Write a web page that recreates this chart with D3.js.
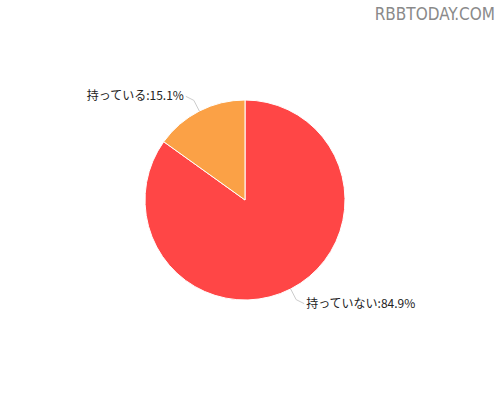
<!DOCTYPE html>
<html>
<head>
<meta charset="utf-8">
<script src="https://cdn.jsdelivr.net/npm/d3@7"></script>
<style>
  body { margin: 0; background: #fff; }
  svg { display: block; }
</style>
</head>
<body>
<svg id="chart" width="500" height="400"></svg>
<script>
// chart data
const labels = ['持っていない', '持っている']
const values = [84.9, 15.1]
const colors = ['#ff4646', '#fba146']

const width = 500, height = 400
const cx = 245, cy = 200, radius = 100

const svg = d3.select('#chart')

// watermark
svg.append('text')
    .attr('x', 495)
    .attr('y', 20)
    .attr('text-anchor', 'end')
    .style('font-family', 'Liberation Sans Narrow, DejaVu Sans Condensed, sans-serif')
    .style('font-size', '17px')
    .style('fill', '#8a8a8a')
    .text('RBBTODAY.COM')

const pie = d3.pie().sort(null).value(d => d)
const arcs = pie(values)

const arc = d3.arc().innerRadius(0).outerRadius(radius)

const g = svg.append('g').attr('transform', `translate(${cx},${cy})`)

g.selectAll('path')
    .data(arcs)
    .enter()
    .append('path')
    .attr('d', arc)
    .style('fill', (d, i) => colors[i])
    .style('stroke', '#fff')
    .style('stroke-width', 1)

// leader lines and labels
const outer = d3.arc().innerRadius(radius * 1.12).outerRadius(radius * 1.12)

arcs.forEach((d, i) => {
    const mid = (d.startAngle + d.endAngle) / 2
    const p0 = d3.arc().innerRadius(radius).outerRadius(radius).centroid(d)
    const p1 = outer.centroid(d)
    const right = Math.sin(mid) > 0
    const p2 = [p1[0] + (right ? 8 : -8), p1[1] + (Math.cos(mid) > 0 ? -4 : 4)]

    g.append('polyline')
        .attr('points', [p0, p1, p2].map(p => p.join(',')).join(' '))
        .style('fill', 'none')
        .style('stroke', '#ccc')
        .style('stroke-width', 1)

    g.append('text')
        .attr('x', p2[0] + (right ? 2 : -2))
        .attr('y', p2[1] + 4)
        .attr('text-anchor', right ? 'start' : 'end')
        .style('font-family', 'Noto Sans CJK JP, sans-serif')
        .style('font-size', '12px')
        .style('fill', '#222')
        .text(labels[i] + ':' + values[i] + '%')
})
</script>
</body>
</html>
